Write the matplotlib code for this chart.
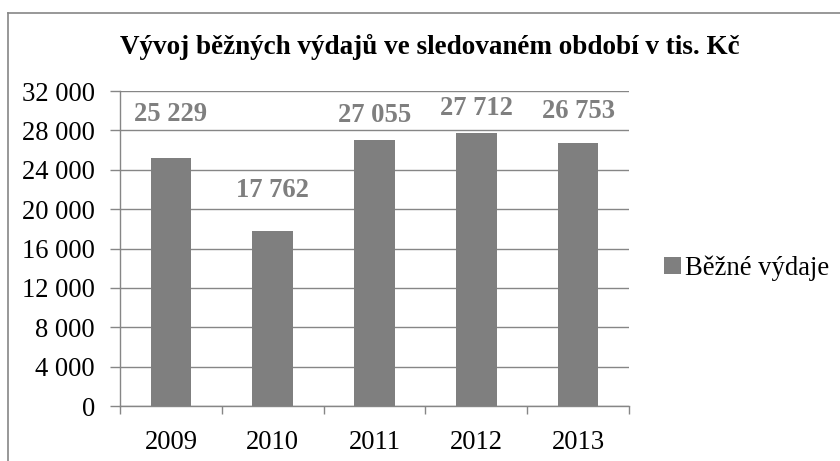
import numpy as np
from matplotlib import pyplot as plt
from matplotlib.lines import Line2D

years = ['2009', '2010', '2011', '2012', '2013']
values = [25229, 17762, 27055, 27712, 26753]
value_labels = ['25 229', '17 762', '27 055', '27 712', '26 753']
yticks = [0, 4000, 8000, 12000, 16000, 20000, 24000, 28000, 32000]
ytick_labels = ['0', '4 000', '8 000', '12 000', '16 000', '20 000', '24 000', '28 000', '32 000']
series_name = 'Běžné výdaje'
title = 'Vývoj běžných výdajů ve sledovaném období v tis. Kč'

# data labels were moved by hand in the original, keep their heights
label_y = [29660, 21940, 29560, 30270, 29870]

plt.rcParams['font.family'] = ['Liberation Serif', 'DejaVu Serif']
fs = 19.2
grey = '#7f7f7f'
line_grey = '#868686'

fig = plt.figure(figsize=(8.4, 4.61), dpi=100)
ax = fig.add_axes([120 / 840, 55 / 461, 509 / 840, 315 / 461])

x = np.arange(len(years))
ax.bar(x, values, width=0.4, color=grey, label=series_name, zorder=3)

for xi, lab, ly in zip(x, value_labels, label_y):
    ax.text(xi, ly, lab, ha='center', va='center', fontsize=fs,
            fontweight='bold', color=grey, zorder=4)

ax.set_xlim(-0.5, len(years) - 0.5)
ax.set_ylim(0, 32000)
ax.set_yticks(yticks)
ax.set_yticklabels(ytick_labels, fontsize=fs)
ax.set_xticks(x)
ax.set_xticklabels(years, fontsize=fs)
ax.set_xticks(np.arange(len(years) + 1) - 0.5, minor=True)

ax.tick_params(axis='y', length=7, width=1, color=line_grey, pad=11)
ax.tick_params(axis='x', which='major', length=0, pad=17)
ax.tick_params(axis='x', which='minor', length=6, width=1, color=line_grey)
ax.yaxis.grid(True, color=line_grey, linewidth=1, zorder=0)
ax.set_axisbelow(True)

for s in ['top', 'right']:
    ax.spines[s].set_visible(False)
for s in ['left', 'bottom']:
    ax.spines[s].set_color(line_grey)
    ax.spines[s].set_linewidth(1)

fig.text(430 / 840, 1 - 47 / 461, title, ha='center', va='center',
         fontsize=19.5, fontweight='bold', family=['Liberation Serif', 'DejaVu Serif'])

fig.legend(loc='center left', bbox_to_anchor=(664 / 840, 1 - 268 / 461),
           frameon=False, fontsize=fs, handlelength=0.62, handleheight=0.62,
           handletextpad=0.18, borderpad=0, borderaxespad=0)

# chart frame (top and left edge visible in the crop)
fig.add_artist(Line2D([8 / 840, 1], [1 - 13 / 461, 1 - 13 / 461],
                      transform=fig.transFigure, color=line_grey, linewidth=1.2))
fig.add_artist(Line2D([8 / 840, 8 / 840], [0, 1 - 13 / 461],
                      transform=fig.transFigure, color=line_grey, linewidth=1.2))

plt.savefig('out.png', dpi=100)
